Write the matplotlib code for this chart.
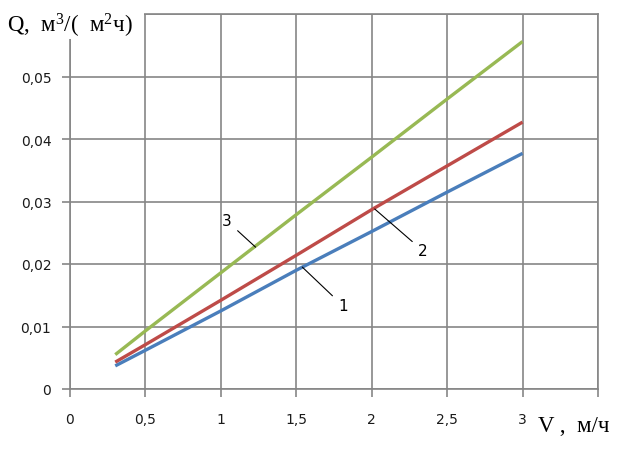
import matplotlib.pyplot as plt
from matplotlib.patches import Rectangle

plt.rcParams['mathtext.fontset'] = 'custom'
plt.rcParams['mathtext.rm'] = 'Liberation Serif'
plt.rcParams['mathtext.it'] = 'Liberation Serif'

v = [0.3, 0.5, 1.0, 1.5, 2.0, 2.5, 3.0]
q1 = [0.0037, 0.0062, 0.0125, 0.0190, 0.0252, 0.0315, 0.0377]
q2 = [0.0043, 0.0071, 0.0142, 0.0214, 0.0287, 0.0357, 0.0427]
q3 = [0.0055, 0.0093, 0.0186, 0.0279, 0.0371, 0.0464, 0.0556]

x_ticks = [0, 0.5, 1, 1.5, 2, 2.5, 3, 3.5]
x_labels = ['0', '0,5', '1', '1,5', '2', '2,5', '3', '']
y_ticks = [0, 0.01, 0.02, 0.03, 0.04, 0.05, 0.06]
y_labels = ['0', '0,01', '0,02', '0,03', '0,04', '0,05', '']

# (label, text x, text y, tip x, tip y)
notes = [('1', 1.81, 0.0133, 1.54, 0.0195),
         ('2', 2.34, 0.0221, 2.02, 0.0288),
         ('3', 1.04, 0.0269, 1.23, 0.0227)]

fig = plt.figure(figsize=(6.23, 4.52), dpi=100)
ax = fig.add_axes([70 / 623, 1 - 390 / 452, 528 / 623, 375 / 452])

grid_col = '#868686'
ax.plot(v, q1, color='#4A7EBB', lw=2.4, solid_capstyle='butt', zorder=3)
ax.plot(v, q2, color='#BE4B48', lw=2.4, solid_capstyle='butt', zorder=3)
ax.plot(v, q3, color='#98B954', lw=2.4, solid_capstyle='butt', zorder=3)

for lab, tx, ty, px, py in notes:
    ax.annotate(lab, xy=(px, py), xytext=(tx, ty), ha='center', va='center',
                fontsize=11, family='DejaVu Sans', zorder=5,
                arrowprops=dict(arrowstyle='-', color='black', lw=0.8,
                                shrinkA=3, shrinkB=0))

ax.set_xlim(0, 3.5)
ax.set_ylim(0, 0.06)
ax.set_xticks(x_ticks)
ax.set_xticklabels(x_labels)
ax.set_yticks(y_ticks)
ax.set_yticklabels(y_labels)
ax.tick_params(axis='both', colors=grid_col, labelcolor='#1a1a1a',
               labelsize=10, length=5.5, width=1.2)
ax.tick_params(axis='x', pad=11)
ax.tick_params(axis='y', pad=8)
ax.grid(True, color=grid_col, lw=1.2)
ax.set_axisbelow(True)
for s in ax.spines.values():
    s.set_color(grid_col)
    s.set_linewidth(1.2)

# white patch behind the y-axis title, as in the original
fig.patches.append(Rectangle((0, 1 - 40 / 452), 144 / 623, 40 / 452,
                             transform=fig.transFigure, facecolor='white',
                             edgecolor='none', zorder=2))
fig.text(7 / 623, 1 - 26 / 452, 'Q,  м$^{3}$/(  м$^{2}$ч)', family='Liberation Serif',
         fontsize=16.5, ha='left', va='center', zorder=3)
fig.text(538 / 623, 1 - 427 / 452, 'V ,  м/ч', family='Liberation Serif',
         fontsize=16.5, ha='left', va='center')

fig.savefig('out.png', dpi=100)
